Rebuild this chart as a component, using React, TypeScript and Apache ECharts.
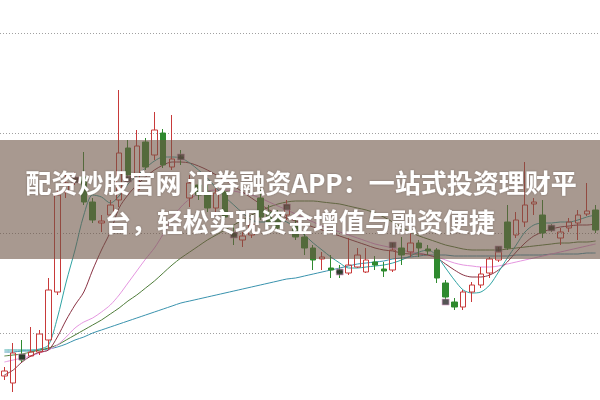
import { useEffect, useRef } from "react";
import * as echarts from "echarts";

// 68 trading days (labels hidden in the picture)
const categories: string[] = [
  "1","2","3","4","5","6","7","8","9","10","11","12","13","14","15","16","17",
  "18","19","20","21","22","23","24","25","26","27","28","29","30","31","32","33","34",
  "35","36","37","38","39","40","41","42","43","44","45","46","47","48","49","50","51",
  "52","53","54","55","56","57","58","59","60","61","62","63","64","65","66","67","68",
];

// [open, close, low, high]
const candles: number[][] = [
  [9.57, 9.62, 9.53, 9.66], [9.50, 9.80, 9.41, 9.90], [9.78, 9.73, 9.71, 9.93], [9.77, 9.81, 9.76, 10.06],
  [9.81, 9.99, 9.78, 10.03], [9.93, 10.43, 9.83, 10.55], [10.41, 11.38, 10.38, 11.43], [11.41, 11.50, 11.35, 11.58],
  [11.53, 11.55, 11.48, 11.61], [11.56, 11.31, 11.28, 11.81], [11.31, 11.13, 11.10, 11.35], [11.10, 11.12, 11.01, 11.18],
  [11.18, 11.28, 11.15, 11.33], [11.33, 11.80, 11.26, 12.43], [11.85, 11.58, 11.53, 11.93], [11.43, 11.87, 11.38, 12.03],
  [11.91, 11.66, 11.63, 11.95], [11.78, 12.03, 11.73, 12.21], [12.00, 11.68, 11.65, 12.04], [11.66, 11.74, 11.63, 12.18],
  [11.76, 11.75, 11.68, 11.83], [11.35, 11.50, 11.26, 11.58], [11.48, 11.38, 11.33, 11.53], [11.41, 11.25, 11.21, 11.48],
  [11.25, 11.40, 11.21, 11.45], [11.41, 11.16, 11.13, 11.45], [10.99, 10.97, 10.88, 11.08], [10.93, 10.97, 10.86, 11.01],
  [10.98, 11.08, 10.95, 11.13], [11.35, 11.16, 11.13, 11.43], [11.21, 11.11, 11.07, 11.28], [11.18, 11.05, 11.01, 11.23],
  [11.18, 11.28, 11.13, 11.33], [11.08, 10.96, 10.93, 11.13], [10.96, 10.85, 10.78, 11.01], [10.85, 10.73, 10.63, 10.88],
  [10.74, 10.76, 10.63, 10.81], [10.65, 10.63, 10.55, 10.78], [10.62, 10.60, 10.55, 10.68], [10.60, 10.68, 10.58, 10.95],
  [10.66, 10.78, 10.65, 10.85], [10.61, 10.73, 10.60, 10.85], [10.71, 10.68, 10.63, 10.77], [10.64, 10.62, 10.56, 10.71],
  [10.63, 10.83, 10.61, 10.90], [10.85, 10.78, 10.68, 10.96], [10.81, 10.90, 10.76, 11.01], [10.90, 10.85, 10.76, 10.93],
  [10.84, 10.82, 10.78, 10.88], [10.83, 10.55, 10.50, 10.85], [10.50, 10.36, 10.33, 10.53], [10.31, 10.26, 10.23, 10.35],
  [10.26, 10.41, 10.23, 10.43], [10.41, 10.48, 10.31, 10.51], [10.48, 10.59, 10.45, 10.66], [10.60, 10.74, 10.55, 10.76],
  [10.73, 10.81, 10.71, 10.86], [11.11, 10.85, 10.83, 11.28], [10.98, 11.13, 10.95, 11.21], [11.11, 11.28, 11.06, 11.71],
  [11.29, 11.31, 11.18, 11.35], [11.18, 11.00, 10.95, 11.33], [11.06, 11.04, 11.01, 11.09], [10.95, 11.01, 10.88, 11.05],
  [11.05, 11.11, 11.01, 11.15], [11.10, 11.18, 10.93, 11.23], [11.19, 11.22, 11.17, 11.50], [11.23, 11.03, 11.00, 11.28],
];

const ma5: number[] = [
  9.83, 9.83, 9.83, 9.83, 9.84, 9.88, 10.15, 10.51, 10.83, 11.18,
  11.38, 11.36, 11.30, 11.37, 11.49, 11.57, 11.65, 11.72, 11.76, 11.76,
  11.75, 11.70, 11.63, 11.55, 11.45, 11.36, 11.28, 11.20, 11.13, 11.11,
  11.11, 11.13, 11.11, 11.05, 10.98, 10.90, 10.83, 10.76, 10.70, 10.65,
  10.65, 10.66, 10.67, 10.68, 10.70, 10.73, 10.77, 10.81, 10.83, 10.77,
  10.65, 10.53, 10.43, 10.40, 10.41, 10.48, 10.61, 10.75, 10.88, 11.01,
  11.08, 11.10, 11.10, 11.11, 11.11, 11.13, 11.16, 11.18,
];
const ma10: number[] = [
  9.58, 9.63, 9.71, 9.77, 9.81, 9.83, 9.96, 10.13, 10.28, 10.41,
  10.63, 10.83, 11.01, 11.25, 11.38, 11.48, 11.56, 11.63, 11.68, 11.71,
  11.71, 11.70, 11.67, 11.63, 11.58, 11.53, 11.47, 11.41, 11.35, 11.29,
  11.23, 11.19, 11.15, 11.12, 11.09, 11.06, 11.03, 11.00, 10.97, 10.94,
  10.91, 10.88, 10.85, 10.83, 10.82, 10.80, 10.79, 10.79, 10.78, 10.75,
  10.69, 10.63, 10.58, 10.56, 10.56, 10.58, 10.63, 10.71, 10.81, 10.90,
  10.97, 11.01, 11.04, 11.06, 11.07, 11.08, 11.08, 11.09,
];
const ma20: number[] = [
  9.71, 9.73, 9.75, 9.77, 9.80, 9.83, 9.88, 9.96, 10.05, 10.11,
  10.15, 10.21, 10.28, 10.38, 10.50, 10.62, 10.74, 10.85, 10.99, 11.14,
  11.26, 11.34, 11.39, 11.42, 11.43, 11.43, 11.42, 11.40, 11.38, 11.35,
  11.31, 11.27, 11.23, 11.19, 11.15, 11.11, 11.07, 11.04, 11.01, 10.98,
  10.95, 10.92, 10.89, 10.87, 10.85, 10.83, 10.81, 10.80, 10.78, 10.76,
  10.73, 10.70, 10.68, 10.67, 10.66, 10.66, 10.67, 10.69, 10.71, 10.73,
  10.75, 10.77, 10.79, 10.81, 10.83, 10.85, 10.87, 10.89,
];
const ma30: number[] = [
  9.77, 9.78, 9.79, 9.81, 9.83, 9.85, 9.88, 9.93, 9.98, 10.03,
  10.08, 10.13, 10.19, 10.25, 10.32, 10.38, 10.45, 10.52, 10.60, 10.68,
  10.75, 10.81, 10.87, 10.93, 10.98, 11.03, 11.08, 11.13, 11.18, 11.22,
  11.26, 11.29, 11.31, 11.32, 11.32, 11.32, 11.31, 11.30, 11.29, 11.27,
  11.25, 11.23, 11.20, 11.16, 11.11, 11.06, 11.01, 10.97, 10.94, 10.91,
  10.88, 10.86, 10.84, 10.83, 10.83, 10.83, 10.83, 10.84, 10.85, 10.86,
  10.87, 10.88, 10.89, 10.90, 10.90, 10.91, 10.91, 10.92,
];
const ma60: number[] = [
  9.81, 9.81, 9.82, 9.82, 9.83, 9.84, 9.86, 9.89, 9.93, 9.96,
  10.00, 10.03, 10.06, 10.09, 10.12, 10.15, 10.18, 10.21, 10.24, 10.27,
  10.30, 10.32, 10.34, 10.36, 10.38, 10.40, 10.42, 10.44, 10.46, 10.48,
  10.50, 10.52, 10.54, 10.55, 10.57, 10.59, 10.61, 10.63, 10.65, 10.67,
  10.69, 10.70, 10.71, 10.72, 10.74, 10.75, 10.76, 10.77, 10.78, 10.78,
  10.78, 10.77, 10.77, 10.77, 10.77, 10.77, 10.77, 10.77, 10.78, 10.78,
  10.78, 10.78, 10.79, 10.79, 10.79, 10.79, 10.80, 10.80,
];

// small dark signal marks
const markerIndex: number[] = [2, 8, 14, 20, 26, 32, 38, 44, 50, 56, 62];
const markerValue: number[] = [9.76, 11.53, 11.54, 11.76, 10.98, 11.26, 10.61, 10.88, 10.31, 10.84, 11.05];

const gridTicks: number[] = [10, 13];

const titleLine1 = "配资炒股官网 证券融资APP：一站式投资理财平";
const titleLine2 = "台，轻松实现资金增值与融资便捷";

export default function App() {
  const ref = useRef<HTMLDivElement>(null);
  useEffect(() => {
    if (!ref.current) return;
    const chart = echarts.init(ref.current, undefined, { renderer: "svg" });
    const line = (name: string, data: number[], color: string) => ({
      name,
      type: "line",
      data,
      symbol: "none",
      clip: false,
      smooth: 0.3,
      lineStyle: { color, width: 1 },
      z: 3,
    });
    chart.setOption({
      animation: false,
      backgroundColor: "#ffffff",
      grid: { left: 0, right: 0, top: 33, bottom: 67 },
      xAxis: {
        type: "category",
        data: categories,
        boundaryGap: true,
        axisLine: { show: false },
        axisTick: { show: false },
        axisLabel: { show: false },
        splitLine: { show: false },
      },
      yAxis: {
        type: "value",
        min: gridTicks[0],
        max: gridTicks[1],
        interval: 1,
        axisLine: { show: false },
        axisTick: { show: false },
        axisLabel: { show: false },
        splitLine: { show: true, lineStyle: { color: "#a0a0a0", type: [1, 2], width: 1 } },
      },
      series: [
        line("MA60", ma60, "#3a93ae"),
        line("MA30", ma30, "#4f7d3a"),
        line("MA20", ma20, "#e596e0"),
        line("MA10", ma10, "#8a3344"),
        line("MA5", ma5, "#2fa3a3"),
        {
          name: "K",
          type: "candlestick",
          data: candles,
          barWidth: 6,
          clip: false,
          z: 4,
          itemStyle: {
            color: "rgba(0,0,0,0)",
            color0: "#2f8a2f",
            borderColor: "#c83a3a",
            borderColor0: "#2f8a2f",
            borderWidth: 1,
          },
        },
        {
          name: "mark",
          type: "scatter",
          data: markerIndex.map((i, k) => [i, markerValue[k]]),
          symbol: "rect",
          symbolSize: [7, 6],
          clip: false,
          z: 5,
          itemStyle: { color: "#2b2b2b", borderColor: "#d9a0c8", borderWidth: 0.8 },
        },
      ],
      graphic: [
        {
          type: "rect",
          z: 100,
          shape: { x: 0, y: 140, width: 600, height: 119 },
          style: { fill: "rgba(110,85,70,0.6)" },
        },
        {
          type: "text",
          z: 101,
          x: 301,
          y: 181,
          style: {
            text: titleLine1,
            fill: "#ffffff",
            font: 'bold 26px "Noto Sans CJK SC"',
            align: "center",
            verticalAlign: "middle",
            textShadowColor: "rgba(0,0,0,0.25)",
            textShadowBlur: 2,
          },
        },
        {
          type: "text",
          z: 101,
          x: 300,
          y: 220,
          style: {
            text: titleLine2,
            fill: "#ffffff",
            font: 'bold 26px "Noto Sans CJK SC"',
            align: "center",
            verticalAlign: "middle",
            textShadowColor: "rgba(0,0,0,0.25)",
            textShadowBlur: 2,
          },
        },
      ],
    });
    return () => chart.dispose();
  }, []);
  return (
    <div
      ref={ref}
      style={{ position: "fixed", left: 0, top: 0, width: 600, height: 400, background: "#fff" }}
    />
  );
}
